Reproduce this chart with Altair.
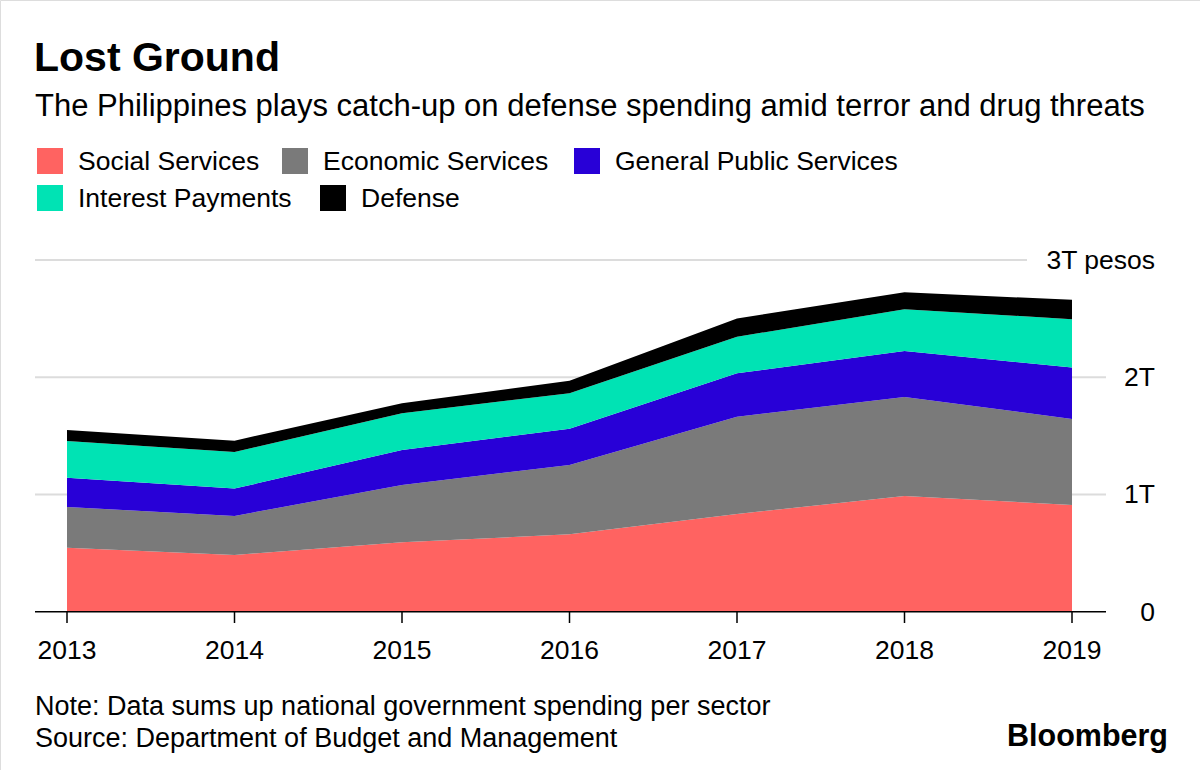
import altair as alt
import pandas as pd

years = [2013, 2014, 2015, 2016, 2017, 2018, 2019]
series_names = ["Social Services", "Economic Services", "General Public Services",
                "Interest Payments", "Defense"]
colors = ["#ff6361", "#7a7a7a", "#2800d7", "#00e3b4", "#000000"]

# trillion pesos
social = [0.546, 0.484, 0.592, 0.660, 0.834, 0.987, 0.910]
economic = [0.347, 0.333, 0.489, 0.591, 0.829, 0.845, 0.734]
general = [0.250, 0.233, 0.299, 0.310, 0.370, 0.392, 0.438]
interest = [0.313, 0.313, 0.313, 0.302, 0.312, 0.356, 0.413]
defense = [0.094, 0.096, 0.085, 0.108, 0.157, 0.145, 0.165]

y_ticks = [0, 1, 2, 3]
y_tick_labels = ["0", "1T", "2T", "3T pesos"]

title = "Lost Ground"
subtitle = "The Philippines plays catch-up on defense spending amid terror and drug threats"
note = "Note: Data sums up national government spending per sector"
source = "Source: Department of Budget and Management"
brand = "Bloomberg"

FONT = "Liberation Sans"

rows = []
for i, (name, vals) in enumerate(zip(series_names, [social, economic, general, interest, defense])):
    for y, v in zip(years, vals):
        rows.append({"year": y, "series": name, "value": v, "ord": i})
df = pd.DataFrame(rows)

xs = alt.Scale(domain=[2013, 2019], range=[67, 1072])
ys = alt.Scale(domain=[0, 3], range=[611.7, 260])
cs = alt.Scale(domain=series_names, range=colors)

ticks_df = pd.DataFrame({"v": y_ticks, "label": y_tick_labels})
years_df = pd.DataFrame({"year": years, "label": [str(y) for y in years]})

grid_a = alt.Chart(ticks_df).transform_filter("datum.v > 0 && datum.v < 3").mark_rule(
    color="#dcdcdc", strokeWidth=2
).encode(y=alt.Y("v:Q", scale=ys, axis=None), x=alt.value(35), x2=alt.value(1106))
grid_b = alt.Chart(ticks_df).transform_filter("datum.v == 3").mark_rule(
    color="#dcdcdc", strokeWidth=2
).encode(y=alt.Y("v:Q", scale=ys, axis=None), x=alt.value(35), x2=alt.value(1027))

area = alt.Chart(df).mark_area(interpolate="linear").encode(
    x=alt.X("year:Q", scale=xs, axis=None),
    y=alt.Y("value:Q", stack="zero", scale=ys, axis=None),
    color=alt.Color("series:N", scale=cs, legend=None),
    order=alt.Order("ord:Q", sort="ascending"),
)

baseline = alt.Chart(ticks_df).transform_filter("datum.v == 0").mark_rule(
    color="#000000", strokeWidth=1.5
).encode(y=alt.Y("v:Q", scale=ys, axis=None), x=alt.value(35), x2=alt.value(1106))

xticks = alt.Chart(years_df).mark_rule(color="#000000", strokeWidth=1.5).encode(
    x=alt.X("year:Q", scale=xs, axis=None), y=alt.value(612), y2=alt.value(623)
)
xlabels = alt.Chart(years_df).mark_text(
    font=FONT, fontSize=26.5, color="#000000", baseline="alphabetic", align="center"
).encode(x=alt.X("year:Q", scale=xs, axis=None), y=alt.value(658.5), text="label:N")

ylabels = alt.Chart(ticks_df).mark_text(
    font=FONT, fontSize=26.5, color="#000000", baseline="middle", align="right", dy=1
).encode(y=alt.Y("v:Q", scale=ys, axis=None), x=alt.value(1155), text="label:N")

def txt(s, x, y, size, bold=False, align="left"):
    return alt.Chart(pd.DataFrame({"t": [s]})).mark_text(
        font=FONT, fontSize=size, fontWeight="bold" if bold else "normal",
        color="#000000", align=align, baseline="alphabetic"
    ).encode(x=alt.value(x), y=alt.value(y), text="t:N")

# manual legend (flow layout as in the reference)
legend_layout = [(37, 148), (282, 148), (574, 148), (37, 185), (320, 185)]
legend_layers = []
for name, (lx, ly) in zip(series_names, legend_layout):
    ldf = pd.DataFrame({"series": [name]})
    legend_layers.append(
        alt.Chart(ldf).mark_rect().encode(
            x=alt.value(lx), x2=alt.value(lx + 26), y=alt.value(ly), y2=alt.value(ly + 26),
            color=alt.Color("series:N", scale=cs, legend=None),
        )
    )
    legend_layers.append(txt(name, lx + 41, ly + 21.5, 26.5))

texts = [
    txt(title, 34, 71, 41, bold=True),
    txt(subtitle, 35, 116, 31),
    txt(note, 35, 715, 27),
    txt(source, 35, 747, 27),
    txt(brand, 1168, 746, 30.5, bold=True, align="right"),
]

chart = alt.layer(grid_a, grid_b, area, baseline, xticks, xlabels, ylabels,
                  *legend_layers, *texts).properties(
    width=1200, height=770, padding=0, autosize=alt.AutoSizeParams(type="none")
).configure_view(stroke=None).configure(background="#ffffff")

chart.save("out.html", embed_options={"renderer": "svg", "actions": False})
